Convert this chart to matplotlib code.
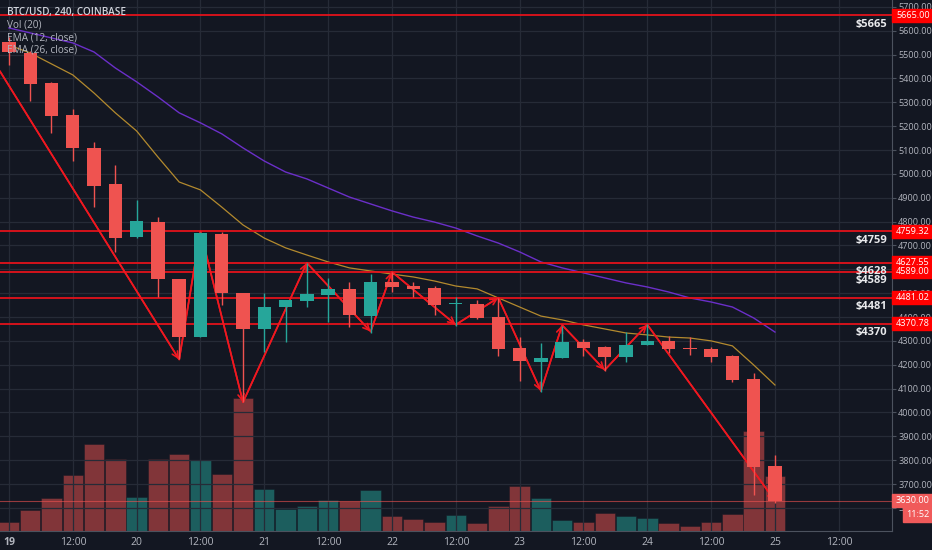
import matplotlib
matplotlib.use('Agg')
import matplotlib.pyplot as plt
import matplotlib.transforms as mtransforms
from matplotlib.patches import Rectangle

plt.rcParams['font.family'] = ['Open Sans', 'DejaVu Sans']

# 4h candles, BTC/USD Coinbase, 19th 00:00 -> 25th 00:00
opens = [5555, 5507, 5380, 5247, 5110, 4957, 4734, 4800, 4558, 4318, 4747, 4500, 4349,
         4441, 4469, 4493, 4517, 4404, 4548, 4531, 4523, 4455, 4455, 4399, 4269, 4213,
         4227, 4294, 4276, 4234, 4283, 4300, 4272, 4265, 4237, 4139, 3777]
highs = [5575, 5515, 5385, 5272, 5135, 5038, 4891, 4818, 4560, 4755, 4758, 4502, 4500,
         4472, 4625, 4562, 4548, 4579, 4588, 4548, 4528, 4483, 4472, 4478, 4318, 4293,
         4363, 4308, 4280, 4339, 4370, 4321, 4315, 4274, 4240, 4167, 3822]
lows = [5457, 5307, 5172, 5054, 4863, 4674, 4730, 4485, 4225, 4316, 4450, 4045, 4255,
        4297, 4443, 4380, 4360, 4334, 4506, 4483, 4409, 4364, 4392, 4238, 4133, 4087,
        4227, 4238, 4175, 4210, 4283, 4248, 4241, 4210, 4129, 3654, 3619]
closes = [5510, 5377, 5244, 5108, 4951, 4730, 4804, 4558, 4318, 4751, 4500, 4349, 4443,
          4470, 4497, 4517, 4409, 4548, 4527, 4517, 4450, 4460, 4398, 4265, 4216, 4230,
          4294, 4272, 4231, 4283, 4300, 4266, 4265, 4231, 4136, 3773, 3630]
volumes = [9, 20.7, 33, 55.7, 86.7, 72.3, 33.7, 72.3, 77, 70.7, 57.3, 132.7, 42, 21.7,
           24.7, 30.7, 29.7, 41.3, 15, 12.3, 9.3, 16, 8, 25, 45, 33, 10.7, 8.7, 18.3,
           14.7, 13, 8, 5, 8.7, 16.7, 100.3, 55]
ema12 = [5540, 5507, 5461, 5415, 5339, 5256, 5180, 5071, 4966, 4933, 4861, 4786, 4731,
         4690, 4660, 4631, 4606, 4593, 4580, 4568, 4551, 4530, 4518, 4480, 4442, 4404,
         4388, 4367, 4350, 4333, 4325, 4316, 4312, 4300, 4279, 4199, 4115]
ema26 = [5612, 5591, 5570, 5549, 5511, 5444, 5386, 5323, 5256, 5214, 5168, 5109, 5054,
         5008, 4979, 4941, 4903, 4874, 4845, 4819, 4798, 4773, 4740, 4710, 4673, 4631,
         4606, 4585, 4564, 4543, 4526, 4505, 4480, 4463, 4442, 4396, 4337]

zigzag_x = [-0.42, 8, 9, 11, 14, 17, 18, 21, 23, 25, 26, 28, 30, 36]
zigzag_y = [5430, 4222, 4759, 4043, 4627, 4339, 4589, 4368, 4481, 4090, 4366, 4178, 4368, 3630]

levels = [5665.00, 4759.32, 4627.55, 4589.00, 4481.02, 4370.78]
level_names = ['$5665', '$4759', '$4628', '$4589', '$4481', '$4370']
last_price = 3630.00
countdown = '11:52'

tick_pos = list(range(0, 40, 3))
tick_labels = ['19', '12:00', '20', '12:00', '21', '12:00', '22', '12:00',
               '23', '12:00', '24', '12:00', '25', '12:00']

bg = '#131722'
up_col = '#26a69a'
down_col = '#ef5350'
grid_col = '#262b37'
text_col = '#b2b5be'

fig = plt.figure(figsize=(9.32, 5.5), dpi=100, facecolor=bg)
ax = fig.add_axes([0, 19 / 550, 892 / 932, 531 / 550])
vax = ax.twinx()
ax.set_zorder(2)
vax.set_zorder(1)
ax.patch.set_visible(False)
vax.set_facecolor(bg)

xs = list(range(len(opens)))

# volume
vcols = [up_col if c >= o else down_col for o, c in zip(opens, closes)]
vax.bar(xs, volumes, width=0.96, color=vcols, alpha=0.5, edgecolor=bg, linewidth=0.6)
vax.set_ylim(0, 531)
vax.set_yticks([])
vax.tick_params(right=False, labelright=False)

# grid
ax.set_xlim(-0.42, 41.5)
ax.set_ylim(3503, 5729)
ax.set_xticks(tick_pos)
ax.set_xticklabels(tick_labels)
ax.set_yticks(range(3600, 5701, 100))
ax.yaxis.set_major_formatter(plt.FuncFormatter(lambda v, _: f'{v:.2f}'))
ax.yaxis.tick_right()
ax.grid(True, color=grid_col, linewidth=0.9)
ax.set_axisbelow(True)
for lab in ax.get_xticklabels():
    if lab.get_text() == '19':
        lab.set_fontweight('bold')
        lab.set_color('#d1d4dc')

# EMAs
ax.plot(xs, ema12, color='#b38a2e', linewidth=0.9, zorder=3)
ax.plot(xs, ema26, color='#6b2fc9', linewidth=1.0, zorder=3)

# levels
for lv, nm in zip(levels, level_names):
    ax.axhline(lv, color='#e3121b', linewidth=1.3, zorder=4)
    ax.annotate(nm, (0.995, lv), xycoords=('axes fraction', 'data'),
                xytext=(0, -2.5), textcoords='offset points', ha='right', va='top',
                color='#e8e9ec', fontsize=8, fontweight='bold', zorder=6)
ax.axhline(last_price, color=down_col, linewidth=0.8, alpha=0.6, zorder=3)

# zigzag
ax.plot(zigzag_x, zigzag_y, color='#f01820', linewidth=1.2, zorder=4)
for i in range(1, len(zigzag_x)):
    ax.annotate('', xy=(zigzag_x[i], zigzag_y[i]), xytext=(zigzag_x[i - 1], zigzag_y[i - 1]),
                arrowprops=dict(arrowstyle='->,head_length=0.45,head_width=0.22',
                                color='#f01820', lw=1.2, shrinkA=0, shrinkB=0),
                zorder=4)

# candles
for x, o, h, l, c in zip(xs, opens, highs, lows, closes):
    col = up_col if c >= o else down_col
    ax.vlines(x, l, h, color=col, linewidth=1.0, zorder=5)
    bh = max(abs(c - o), 4)
    ax.bar(x, bh, width=0.63, bottom=min(o, c), color=col, linewidth=0, zorder=5)

# price axis look
for s in ['top', 'left']:
    ax.spines[s].set_visible(False)
for s in vax.spines.values():
    s.set_visible(False)
ax.spines['right'].set_color('#4c525e')
ax.spines['bottom'].set_color('#4c525e')
ax.tick_params(axis='y', colors=text_col, labelsize=6.6, length=3, pad=1.5, color='#4c525e')
ax.tick_params(axis='x', colors=text_col, labelsize=7.5, length=0, pad=4)

# price tags on the right scale
tr = mtransforms.blended_transform_factory(ax.transAxes, ax.transData)
ppx = (5729 - 3503) / 531.0
tag_fs = 6.6
for lv in levels:
    ax.add_patch(Rectangle((1.0, lv - 6.5 * ppx), 40 / 892, 13 * ppx, transform=tr,
                           color='#ff0000', clip_on=False, zorder=7))
    ax.text(1.0 + 21 / 892, lv, f'{lv:.2f}', transform=tr, ha='center', va='center',
            color='white', fontsize=tag_fs, zorder=8, clip_on=False)
ax.add_patch(Rectangle((1.0, last_price - 6.5 * ppx), 40 / 892, 13 * ppx, transform=tr,
                       color='#f05a5a', clip_on=False, zorder=7))
ax.text(1.0 + 21 / 892, last_price, f'{last_price:.2f}', transform=tr, ha='center',
        va='center', color='white', fontsize=tag_fs, zorder=8, clip_on=False)
ax.add_patch(Rectangle((1.0 + 11 / 892, last_price - 21 * ppx), 29 / 892, 14 * ppx,
                       transform=tr, color='#f05a5a', clip_on=False, zorder=7))
ax.text(1.0 + 26 / 892, last_price - 14 * ppx, countdown, transform=tr, ha='center',
        va='center', color='white', fontsize=tag_fs, zorder=8, clip_on=False)

# legend text
fig.text(7 / 932, 1 - 12 / 550, 'BTC/USD, 240, COINBASE', color='#d1d4dc', fontsize=7.2,
         fontweight='semibold', va='center', zorder=10)
for k, t in enumerate(['Vol (20)', 'EMA (12, close)', 'EMA (26, close)']):
    fig.text(7 / 932, 1 - (25 + 12.6 * k) / 550, t, color=text_col, fontsize=7.2,
             va='center', zorder=10)

fig.savefig('out.png', dpi=100, facecolor=bg)
